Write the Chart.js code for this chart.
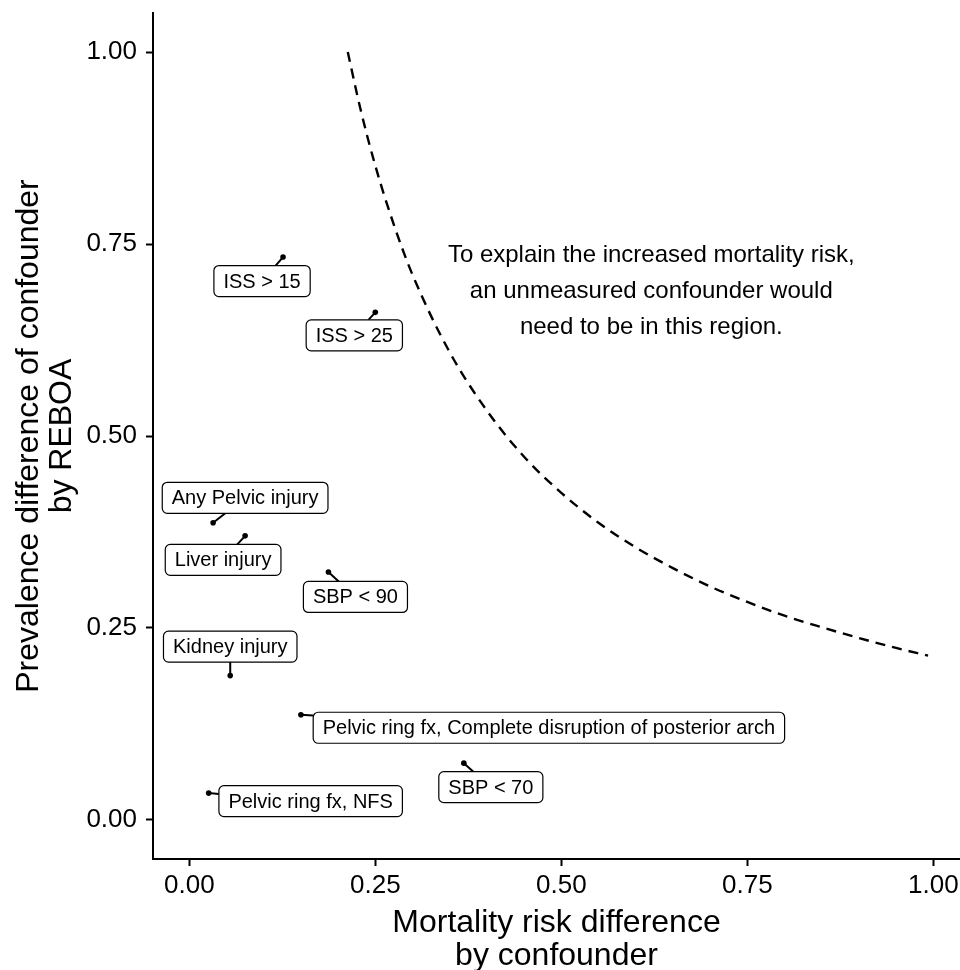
<!DOCTYPE html>
<html>
<head>
<meta charset="utf-8">
<script src="https://cdn.jsdelivr.net/npm/chart.js@4"></script>
<style>
  body { margin: 0; background: #fff; }
  #wrap { width: 960px; height: 970px; }
</style>
</head>
<body>
<div id="wrap"><canvas id="sensChart" width="960" height="970"></canvas></div>
<script>
// confounders: mortality risk difference (x) and prevalence difference (y)
const confounders = [
  'ISS > 15',
  'ISS > 25',
  'Any Pelvic injury',
  'Liver injury',
  'SBP < 90',
  'Kidney injury',
  'Pelvic ring fx, Complete disruption of posterior arch',
  'SBP < 70',
  'Pelvic ring fx, NFS'
];
const mortalityDiff  = [0.126, 0.250, 0.032, 0.075, 0.187, 0.055, 0.150, 0.369, 0.026];
const prevalenceDiff = [0.733, 0.661, 0.387, 0.370, 0.323, 0.188, 0.137, 0.074, 0.035];

// dashed boundary curve
const boundX = [0.213, 0.23, 0.25, 0.275, 0.30, 0.35, 0.40, 0.45, 0.50, 0.55, 0.60, 0.65, 0.70, 0.75, 0.80, 0.85, 0.90, 0.95, 0.993];
const boundY = [1.000, 0.926, 0.852, 0.775, 0.710, 0.609, 0.533, 0.473, 0.426, 0.387, 0.355, 0.328, 0.304, 0.284, 0.266, 0.251, 0.237, 0.224, 0.214];

const tickValues = [0, 0.25, 0.5, 0.75, 1];
const tickLabels = ['0.00', '0.25', '0.50', '0.75', '1.00'];

const noteLines = [
  'To explain the increased mortality risk,',
  'an unmeasured confounder would',
  'need to be in this region.'
];

// label box offsets from each point, in pixels (ggrepel-like placement)
const labelOffsets = [
  [-21, 24], [-21, 23], [32, -25], [-22, 24], [27, 25],
  [0, -29], [248, 13], [27, 24], [102, 8]
];

const FONT = "'Liberation Sans', Arial, Helvetica, sans-serif";

const scatterData = mortalityDiff.map((x, i) => ({ x: x, y: prevalenceDiff[i] }));
const curveData = boundX.map((x, i) => ({ x: x, y: boundY[i] }));

function setTicks(scale) {
  scale.ticks = tickValues.map(v => ({ value: v }));
}
function tickText(v) {
  const i = tickValues.indexOf(v);
  return i >= 0 ? tickLabels[i] : '';
}

const labelPlugin = {
  id: 'repelLabels',
  afterDatasetsDraw(chart) {
    const ctx = chart.ctx;
    const meta = chart.getDatasetMeta(1);
    ctx.save();
    ctx.font = '20px ' + FONT;
    meta.data.forEach((pt, i) => {
      const px = pt.x, py = pt.y;
      const cx = px + labelOffsets[i][0], cy = py + labelOffsets[i][1];
      const w = ctx.measureText(confounders[i]).width + 19;
      const h = 31;
      const l = cx - w / 2, t = cy - h / 2;
      // segment from point to box edge
      const dx = cx - px, dy = cy - py;
      let s = 1;
      if (dx !== 0) s = Math.min(s, (w / 2) / Math.abs(dx));
      if (dy !== 0) s = Math.min(s, (h / 2) / Math.abs(dy));
      const ex = cx - dx * s, ey = cy - dy * s;
      ctx.strokeStyle = '#000';
      ctx.lineWidth = 2;
      ctx.beginPath();
      ctx.moveTo(px, py);
      ctx.lineTo(ex, ey);
      ctx.stroke();
      // box
      ctx.beginPath();
      ctx.roundRect(l, t, w, h, 5);
      ctx.fillStyle = '#fff';
      ctx.fill();
      ctx.lineWidth = 1.2;
      ctx.stroke();
      ctx.fillStyle = '#000';
      ctx.textAlign = 'center';
      ctx.textBaseline = 'middle';
      ctx.fillText(confounders[i], cx, cy + 1);
    });
    ctx.restore();
  }
};

const notePlugin = {
  id: 'note',
  afterDatasetsDraw(chart) {
    const ctx = chart.ctx;
    const x = chart.scales.x.getPixelForValue(0.621);
    const y = chart.scales.y.getPixelForValue(0.688);
    ctx.save();
    ctx.font = '24px ' + FONT;
    ctx.fillStyle = '#000';
    ctx.textAlign = 'center';
    ctx.textBaseline = 'middle';
    noteLines.forEach((line, i) => {
      ctx.fillText(line, x, y + (i - 1) * 36);
    });
    ctx.restore();
  }
};

const config = {
  type: 'scatter',
  data: {
    datasets: [{
      type: 'line',
      data: curveData,
      borderColor: '#000',
      borderWidth: 2.4,
      borderDash: [10, 7],
      pointRadius: 0,
      fill: false,
      cubicInterpolationMode: 'monotone'
    }, {
      data: scatterData,
      backgroundColor: '#000',
      borderColor: '#000',
      pointRadius: 2.8,
      pointBorderWidth: 0
    }]
  },
  options: {
    responsive: false,
    animation: false,
    layout: { autoPadding: false, padding: { top: 13, right: 0, bottom: 0, left: 0 } },
    plugins: { legend: { display: false }, tooltip: { enabled: false } },
    scales: {
      x: {
        type: 'linear',
        min: -0.0488,
        max: 1.0359,
        afterBuildTicks: setTicks,
        afterFit: s => { s.height = 111; s.paddingLeft = 0; s.paddingRight = 0; },
        grid: { drawOnChartArea: false, tickLength: 7, tickWidth: 2, tickColor: '#000' },
        border: { color: '#000', width: 2 },
        ticks: { color: '#000', font: { family: FONT, size: 26 }, padding: 4, maxRotation: 0, callback: tickText },
        title: {
          display: true,
          text: ['Mortality risk difference', 'by confounder'],
          color: '#000',
          font: { family: FONT, size: 32, lineHeight: 1.03 },
          padding: { top: 0, bottom: -3 }
        }
      },
      y: {
        type: 'linear',
        min: -0.0508,
        max: 1.0508,
        afterBuildTicks: setTicks,
        afterFit: s => { s.width = 153; s.paddingTop = 0; s.paddingBottom = 0; },
        grid: { drawOnChartArea: false, tickLength: 7, tickWidth: 2, tickColor: '#000' },
        border: { color: '#000', width: 2 },
        ticks: { color: '#000', font: { family: FONT, size: 26 }, padding: 9, callback: tickText },
        title: {
          display: true,
          text: ['Prevalence difference of confounder', 'by REBOA'],
          color: '#000',
          font: { family: FONT, size: 32, lineHeight: 1.03 },
          padding: { top: 13, bottom: 0 }
        }
      }
    }
  },
  plugins: [labelPlugin, notePlugin]
};

const sensChart = new Chart(document.getElementById('sensChart'), config);
</script>
</body>
</html>
